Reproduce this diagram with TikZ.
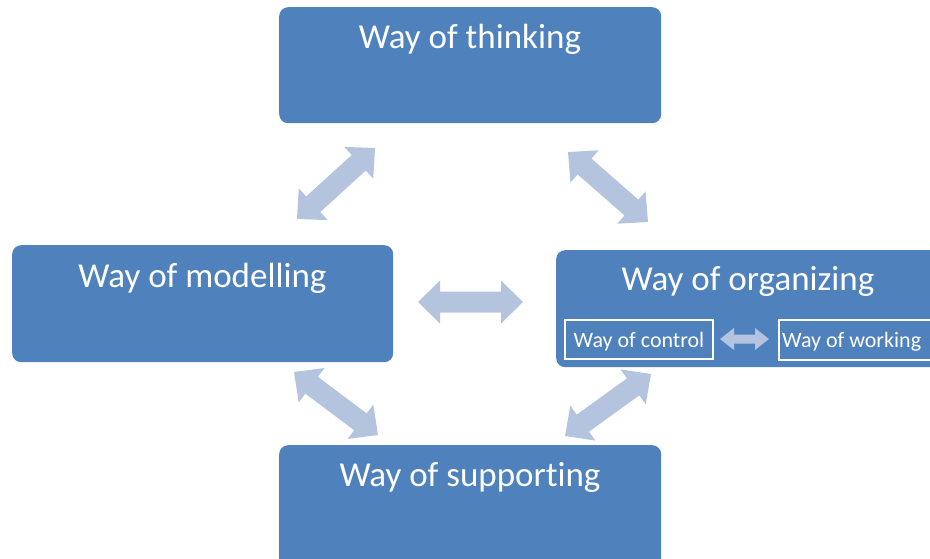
\documentclass[tikz,border=0pt]{standalone}
\usepackage{fontspec}
\setmainfont{Carlito}[RawFeature={-liga;-clig;-calt;-dlig}]
\usetikzlibrary{calc}
\definecolor{boxblue}{HTML}{4F81BD}
\definecolor{arrowblue}{HTML}{B4C4DF}
\newcommand\dblarr[5]{%
 \fill[arrowblue] (#1)
 -- ($($(#1)!#5!(#2)$)!#4!90:(#2)$)
 -- ($($(#1)!#5!(#2)$)!#3!90:(#2)$)
 -- ($($(#2)!#5!(#1)$)!#3!-90:(#1)$)
 -- ($($(#2)!#5!(#1)$)!#4!-90:(#1)$)
 -- (#2)
 -- ($($(#2)!#5!(#1)$)!#4!90:(#1)$)
 -- ($($(#2)!#5!(#1)$)!#3!90:(#1)$)
 -- ($($(#1)!#5!(#2)$)!#3!-90:(#2)$)
 -- ($($(#1)!#5!(#2)$)!#4!-90:(#2)$)
 -- cycle;}
\tikzset{
  bigbox/.style={draw=none, fill=boxblue, rounded corners=9pt, anchor=north west, inner sep=0pt},
  title/.style={text=white, anchor=base, inner sep=0pt, font=\fontsize{35}{40}\selectfont},
  subbox/.style={draw=white, line width=2.1pt, text=white, inner sep=0pt, anchor=north west, font=\fontsize{22}{26}\selectfont},
}
\begin{document}
\begin{tikzpicture}[x=1pt,y=-1pt]
\useasboundingbox (0,0) rectangle (930,558);
\clip (0,0) rectangle (930,558);
% boxes
\node[bigbox, minimum width=382pt, minimum height=116pt] (think) at (279,7) {};
\node[bigbox, minimum width=381pt, minimum height=117pt] (model) at (12,245) {};
\node[bigbox, minimum width=420pt, minimum height=117pt] (org) at (556,250) {};
\node[bigbox, minimum width=382pt, minimum height=130pt] (supp) at (279,445) {};
% titles
\node[title] (thinkT) at (470,48) {Way of thinking};
\node[title] (modelT) at (202.5,287) {Way of modelling};
\node[title] (orgT) at (748,290) {Way of organizing};
\node[title] (suppT) at (470,486) {Way of supporting};
% sub boxes
\node[subbox, minimum width=148pt, minimum height=39pt] (ctrl) at (564,319) {};
\node[text=white, anchor=base, inner sep=0pt, font=\fontsize{22}{26}\selectfont] (ctrlT) at (639,347) {Way of control};
\node[subbox, minimum width=170pt, minimum height=40pt] (work) at (778,318.5) {};
\node[text=white, anchor=base west, inner sep=0pt, font=\fontsize{22}{26}\selectfont] (workT) at (782,347) {Way of working};
% arrow end points
\coordinate (a1) at (297,219);
\coordinate (a2) at (375,148);
\coordinate (b1) at (568,152);
\coordinate (b2) at (648,222);
\coordinate (c1) at (418,302);
\coordinate (c2) at (523,302);
\coordinate (d1) at (294,372);
\coordinate (d2) at (378,435);
\coordinate (e1) at (651,374);
\coordinate (e2) at (565,436);
\coordinate (f1) at (720,339);
\coordinate (f2) at (769,339);
\dblarr{a1}{a2}{10.5pt}{21.5pt}{22pt}
\dblarr{b1}{b2}{10.5pt}{21.5pt}{22pt}
\dblarr{c1}{c2}{10.5pt}{21.5pt}{22pt}
\dblarr{d1}{d2}{10.5pt}{21.5pt}{22pt}
\dblarr{e1}{e2}{10.5pt}{21.5pt}{22pt}
\dblarr{f1}{f2}{4.5pt}{11pt}{14pt}
\end{tikzpicture}
\end{document}
